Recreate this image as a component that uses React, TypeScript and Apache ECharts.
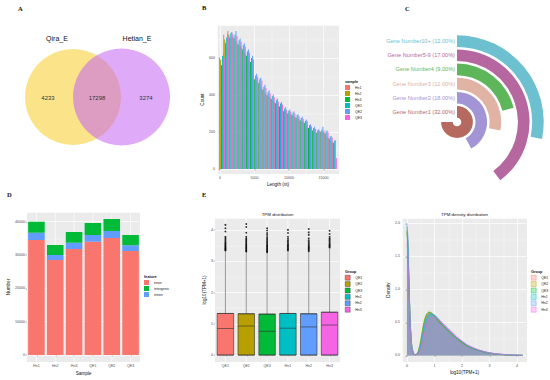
import React, { useEffect, useRef } from 'react';
import * as echarts from 'echarts';

const FONT = 'Liberation Sans, Arial, sans-serif';
const SERIF = 'Liberation Serif, DejaVu Serif, serif';
const GG = ['#F8766D', '#B79F00', '#00BA38', '#00BFC4', '#619CFF', '#F564E3'];

// ---- A: Venn ----
const vennSets = ['Qira_E', 'Hetian_E'];
const vennCounts = [4233, 17298, 3274];

// ---- B: length histogram ----
const lenSamples = ['Hn1', 'Hn2', 'Hn3', 'QE1', 'QE2', 'QE3'];
const lenBins = [300, 900, 1500, 2100, 2700, 3300, 3900, 4500, 5100, 5700, 6300, 6900, 7500, 8100, 8700, 9300, 9900, 10500, 11100, 11700, 12300, 12900, 13500, 14100, 14700, 15300, 15900, 16500];
const lenHn1 = [600, 725, 745, 720, 690, 665, 630, 595, 500, 480, 440, 410, 390, 368, 350, 322, 312, 300, 286, 272, 258, 232, 218, 206, 208, 200, 172, 150];
const lenHn2 = [590, 700, 725, 712, 680, 655, 620, 585, 490, 470, 432, 402, 382, 360, 342, 316, 305, 295, 280, 266, 252, 226, 212, 200, 205, 196, 168, 145];
const lenHn3 = [560, 680, 710, 705, 672, 645, 612, 578, 485, 462, 428, 398, 378, 355, 338, 312, 300, 290, 276, 262, 248, 222, 208, 196, 200, 190, 164, 140];
const lenQE1 = [610, 710, 735, 725, 695, 670, 635, 600, 505, 485, 445, 415, 395, 372, 354, 326, 315, 304, 290, 275, 260, 236, 221, 210, 212, 203, 175, 152];
const lenQE2 = [625, 730, 740, 745, 705, 680, 645, 612, 515, 495, 455, 425, 402, 380, 362, 335, 322, 310, 296, 282, 268, 242, 228, 215, 228, 208, 178, 155];
const lenQE3 = [595, 715, 730, 718, 688, 660, 628, 590, 498, 478, 438, 408, 388, 365, 348, 320, 310, 298, 284, 270, 256, 230, 216, 204, 206, 198, 170, 60];
const lenSeries = [lenHn1, lenHn2, lenHn3, lenQE1, lenQE2, lenQE3];

// ---- C: gene number radial bars ----
const geneCats = ['Gene Number1', 'Gene Number2', 'Gene Number3', 'Gene Number4', 'Gene Number5-9', 'Gene Number10+'];
const genePct = [32, 18, 12, 9, 17, 12];
const geneColors = ['#B5695F', '#A394D6', '#E0B3A4', '#5DB75A', '#B6679F', '#6CC0D0'];

// ---- D: features ----
const featSamples = ['Hn1', 'Hn2', 'Hn3', 'QE1', 'QE2', 'QE3'];
const featExon = [34500, 28500, 31800, 34000, 35100, 31200];
const featIntron = [2200, 1500, 1900, 2000, 2100, 1700];
const featIntergenic = [3300, 3000, 3200, 3600, 3600, 3100];

// ---- E: TPM boxplots ----
const tpmGroups = ['QE1', 'QE2', 'QE3', 'Hn1', 'Hn2', 'Hn3'];
const tpmQ1 = [0, 0, 0, 0, 0, 0];
const tpmMedian = [0.85, 0.93, 0.76, 0.86, 0.9, 0.96];
const tpmQ3 = [1.33, 1.32, 1.31, 1.33, 1.32, 1.37];
const tpmWhisker = [3.32, 3.29, 3.27, 3.32, 3.3, 3.42];
const outQE1 = [3.34, 3.36, 3.38, 3.4, 3.42, 3.45, 3.47, 3.5, 3.53, 3.56, 3.59, 3.62, 3.66, 3.7, 3.74, 3.78, 3.95, 4.05, 4.16];
const outQE2 = [3.31, 3.33, 3.35, 3.38, 3.41, 3.44, 3.47, 3.5, 3.53, 3.57, 3.61, 3.65, 3.69, 3.73, 3.78, 3.91, 4.09, 4.19];
const outQE3 = [3.29, 3.31, 3.34, 3.37, 3.4, 3.43, 3.46, 3.49, 3.52, 3.56, 3.6, 3.64, 3.68, 3.72, 3.77, 3.84, 3.9, 3.98, 4.05];
const outHn1 = [3.34, 3.37, 3.4, 3.43, 3.46, 3.49, 3.52, 3.55, 3.59, 3.63, 3.67, 3.72, 3.78, 3.9, 4.0];
const outHn2 = [3.32, 3.35, 3.38, 3.41, 3.44, 3.47, 3.5, 3.54, 3.58, 3.62, 3.67, 3.73, 3.84, 3.92, 4.03];
const outHn3 = [3.44, 3.46, 3.49, 3.52, 3.55, 3.58, 3.62, 3.66, 3.7, 3.73, 3.78, 3.87, 3.97];
const tpmOutliers = [outQE1, outQE2, outQE3, outHn1, outHn2, outHn3];

// ---- F: TPM density ----
const densX = [0, 0.03, 0.07, 0.12, 0.18, 0.25, 0.32, 0.4, 0.48, 0.56, 0.64, 0.72, 0.8, 0.88, 0.96, 1.04, 1.12, 1.2, 1.35, 1.5, 1.65, 1.8, 2.0, 2.2, 2.4, 2.6, 2.8, 3.0, 3.3, 3.6, 3.9, 4.2];
const densQE1 = [1.9, 1.72, 1.15, 0.48, 0.12, 0.02, 0.01, 0.04, 0.14, 0.32, 0.5, 0.6, 0.64, 0.64, 0.62, 0.59, 0.55, 0.51, 0.44, 0.38, 0.32, 0.27, 0.2, 0.15, 0.11, 0.08, 0.055, 0.037, 0.02, 0.01, 0.004, 0.001];
const densQE2 = [1.85, 1.68, 1.12, 0.46, 0.11, 0.02, 0.01, 0.05, 0.18, 0.38, 0.55, 0.63, 0.66, 0.65, 0.62, 0.58, 0.54, 0.5, 0.43, 0.37, 0.31, 0.26, 0.19, 0.14, 0.1, 0.075, 0.05, 0.034, 0.018, 0.009, 0.004, 0.001];
const densQE3 = [1.88, 1.7, 1.14, 0.47, 0.12, 0.02, 0.01, 0.05, 0.17, 0.36, 0.53, 0.62, 0.65, 0.64, 0.61, 0.57, 0.53, 0.49, 0.43, 0.37, 0.31, 0.26, 0.19, 0.14, 0.1, 0.074, 0.05, 0.034, 0.018, 0.009, 0.004, 0.001];
const densHn1 = [1.95, 1.78, 1.18, 0.49, 0.12, 0.02, 0.01, 0.03, 0.1, 0.25, 0.43, 0.55, 0.61, 0.63, 0.62, 0.6, 0.56, 0.52, 0.45, 0.39, 0.33, 0.27, 0.21, 0.15, 0.11, 0.08, 0.056, 0.038, 0.021, 0.011, 0.005, 0.001];
const densHn2 = [2.0, 1.82, 1.2, 0.5, 0.12, 0.02, 0.01, 0.03, 0.11, 0.27, 0.45, 0.56, 0.61, 0.63, 0.62, 0.59, 0.56, 0.52, 0.45, 0.39, 0.33, 0.27, 0.21, 0.15, 0.11, 0.08, 0.056, 0.038, 0.021, 0.011, 0.005, 0.001];
const densHn3 = [1.7, 1.55, 1.04, 0.43, 0.1, 0.02, 0.01, 0.02, 0.07, 0.18, 0.34, 0.47, 0.54, 0.57, 0.58, 0.58, 0.56, 0.53, 0.47, 0.41, 0.35, 0.29, 0.22, 0.16, 0.12, 0.085, 0.06, 0.04, 0.022, 0.012, 0.005, 0.001];
const densSeries = [densQE1, densQE2, densQE3, densHn1, densHn2, densHn3];

// ---- shared styles ----
const PANEL = '#EBEBEB';
const tickLbl = { fontSize: 3.6, color: '#4D4D4D', fontFamily: FONT, margin: 2 };
const valLbl = { ...tickLbl, showMinLabel: false, showMaxLabel: false };
const aTick = { show: true, length: 1.5, lineStyle: { color: '#333', width: 0.4 } };
const sLine = { show: true, lineStyle: { color: '#fff', width: 0.7 } };
const mLine = { show: true, lineStyle: { color: '#fff', width: 0.3 } };
const mTick = { show: false, splitNumber: 2 };
const nameStyle = { fontSize: 4.6, color: '#111', fontFamily: FONT };

function valueAxis(grid: number, min: number, max: number, split: number) {
  return {
    type: 'value', gridIndex: grid, min, max, splitNumber: split,
    axisLine: { show: false }, axisTick: aTick, axisLabel: valLbl,
    splitLine: sLine, minorTick: mTick, minorSplitLine: mLine,
    nameLocation: 'middle', nameTextStyle: nameStyle,
  };
}

function vGridSeries(x: number, y: number, n: number) {
  return {
    type: 'custom', xAxisIndex: x, yAxisIndex: y, z: 1, silent: true,
    data: Array.from({ length: n }, (_, i) => [i, 0]),
    renderItem: (params: any, api: any) => {
      const px = api.coord([api.value(0), 0])[0];
      const cs = params.coordSys;
      return { type: 'line', shape: { x1: px, y1: cs.y, x2: px, y2: cs.y + cs.height }, style: { stroke: '#fff', lineWidth: 0.7 } };
    },
  };
}

function txt(text: string, x: number, y: number, size: number, opts: any = {}) {
  return {
    type: 'text', x, y, silent: true,
    style: { text, fontSize: size, fontFamily: opts.font || FONT, fontWeight: opts.weight || 'normal', fill: opts.fill || '#111', textAlign: opts.align || 'left', textVerticalAlign: 'middle' },
  };
}

function legendCfg(left: number, top: number, items: any[]) {
  return {
    orient: 'vertical', left, top, itemWidth: 5, itemHeight: 5, itemGap: 1, padding: 0,
    selectedMode: false, textStyle: { fontSize: 3.5, color: '#222', fontFamily: FONT },
    data: items,
  };
}

function buildOption() {
  const graphic: any[] = [
    txt('A', 18, 8, 6.5, { font: SERIF, weight: 'bold' }),
    txt('B', 202, 7, 6.5, { font: SERIF, weight: 'bold' }),
    txt('C', 405, 8, 6.5, { font: SERIF, weight: 'bold' }),
    txt('D', 7, 194, 6.5, { font: SERIF, weight: 'bold' }),
    txt('E', 202, 194, 6.5, { font: SERIF, weight: 'bold' }),
    { type: 'circle', shape: { cx: 73, cy: 97, r: 48 }, style: { fill: '#FBE38A' }, silent: true },
    { type: 'circle', shape: { cx: 121.5, cy: 97, r: 48.5 }, style: { fill: 'rgba(196,100,240,0.55)' }, silent: true },
    txt(vennSets[0], 57, 38, 7, { align: 'center' }),
    txt(vennSets[1], 137, 38, 7, { align: 'center' }),
    txt(String(vennCounts[0]), 48, 98, 6, { align: 'center', fill: '#333' }),
    txt(String(vennCounts[1]), 97, 98, 6, { align: 'center', fill: '#333' }),
    txt(String(vennCounts[2]), 146, 98, 6, { align: 'center', fill: '#333' }),
    txt('TPM distribution', 277.5, 214, 4.4, { align: 'center' }),
    txt('TPM density distribution', 464.5, 214, 4.4, { align: 'center' }),
    txt('sample', 345, 82, 3.8, { weight: 'bold' }),
    txt('feature', 144, 277, 3.8, { weight: 'bold' }),
    txt('Group', 345, 272, 3.8, { weight: 'bold' }),
    txt('Group', 531, 272, 3.8, { weight: 'bold' }),
  ];

  const series: any[] = [];

  // B bars
  lenSeries.forEach((arr, k) => {
    series.push({
      type: 'bar', name: lenSamples[k], xAxisIndex: 0, yAxisIndex: 0,
      data: lenBins.map((b, i) => [b, arr[i]]), itemStyle: { color: GG[k] },
      barGap: '0%', barCategoryGap: '4%',
    });
  });

  // D
  series.push(vGridSeries(1, 1, featSamples.length));
  series.push({ type: 'bar', name: 'exon', stack: 'f', xAxisIndex: 1, yAxisIndex: 1, data: featExon, itemStyle: { color: '#F8766D' }, barCategoryGap: '12%' });
  series.push({ type: 'bar', name: 'intron', stack: 'f', xAxisIndex: 1, yAxisIndex: 1, data: featIntron, itemStyle: { color: '#619CFF' }, barCategoryGap: '12%' });
  series.push({ type: 'bar', name: 'intergenic', stack: 'f', xAxisIndex: 1, yAxisIndex: 1, data: featIntergenic, itemStyle: { color: '#00BA38' }, barCategoryGap: '12%' });

  // E
  series.push(vGridSeries(2, 2, tpmGroups.length));
  series.push({
    type: 'custom', xAxisIndex: 2, yAxisIndex: 2, z: 2, silent: true,
    data: tpmGroups.map((_, i) => [i, tpmQ3[i], tpmWhisker[i]]),
    renderItem: (params: any, api: any) => {
      const p1 = api.coord([api.value(0), api.value(1)]);
      const p2 = api.coord([api.value(0), api.value(2)]);
      return { type: 'line', shape: { x1: p1[0], y1: p1[1], x2: p2[0], y2: p2[1] }, style: { stroke: '#555', lineWidth: 0.6 } };
    },
  });
  series.push({
    type: 'boxplot', xAxisIndex: 2, yAxisIndex: 2, boxWidth: [16.5, 16.5], z: 3,
    data: tpmGroups.map((_, i) => ({
      value: [tpmQ1[i], tpmQ1[i], tpmMedian[i], tpmQ3[i], tpmQ3[i]],
      itemStyle: { color: GG[i], borderColor: '#333', borderWidth: 0.6 },
    })),
  });
  series.push({
    type: 'scatter', xAxisIndex: 2, yAxisIndex: 2, symbolSize: 1.8, z: 4,
    itemStyle: { color: '#000' },
    data: tpmOutliers.flatMap((arr, i) => arr.map((v) => [i, v])),
  });

  // F
  densSeries.forEach((arr, k) => {
    series.push({
      type: 'line', name: tpmGroups[k], xAxisIndex: 3, yAxisIndex: 3, showSymbol: false, smooth: 0.2,
      data: densX.map((x, i) => [x, arr[i]]),
      lineStyle: { color: GG[k], width: 0.6 }, itemStyle: { color: GG[k] },
      areaStyle: { color: GG[k], opacity: 0.3 },
    });
  });

  // C polar
  series.push({
    type: 'bar', coordinateSystem: 'polar', barCategoryGap: '18%',
    data: genePct.map((v, i) => ({ value: v, itemStyle: { color: geneColors[i] } })),
  });

  return {
    animation: false,
    backgroundColor: '#fff',
    textStyle: { fontFamily: FONT },
    graphic,
    grid: [
      { left: 217, top: 25, width: 122, height: 149, show: true, backgroundColor: PANEL, borderWidth: 0 },
      { left: 27, top: 212, width: 113, height: 150, show: true, backgroundColor: PANEL, borderWidth: 0 },
      { left: 215, top: 218, width: 125, height: 144, show: true, backgroundColor: PANEL, borderWidth: 0 },
      { left: 402, top: 218, width: 125, height: 144, show: true, backgroundColor: PANEL, borderWidth: 0 },
    ],
    xAxis: [
      { ...valueAxis(0, -435, 17250, 4), name: 'Length (nt)', nameGap: 8, axisLabel: { ...valLbl, formatter: (v: number) => String(v) } },
      {
        type: 'category', gridIndex: 1, data: featSamples, axisLine: { show: false },
        axisTick: { ...aTick, alignWithLabel: true }, axisLabel: tickLbl, splitLine: { show: false },
        name: 'Sample', nameLocation: 'middle', nameGap: 9, nameTextStyle: nameStyle,
      },
      {
        type: 'category', gridIndex: 2, data: tpmGroups, axisLine: { show: false },
        axisTick: { ...aTick, alignWithLabel: true }, axisLabel: tickLbl, splitLine: { show: false },
      },
      { ...valueAxis(3, -0.18, 4.36, 5), name: 'log10(TPM+1)', nameGap: 8 },
    ],
    yAxis: [
      { ...valueAxis(0, -27, 778, 5), name: 'Count', nameGap: 10 },
      { ...valueAxis(1, -2100, 42900, 5), name: 'Number', nameGap: 14, axisLabel: { ...valLbl, formatter: (v: number) => String(v) } },
      { ...valueAxis(2, -0.22, 4.38, 5), name: 'log10(TPM+1)', nameGap: 8 },
      { ...valueAxis(3, -0.1, 2.08, 5), name: 'Density', nameGap: 9, axisLabel: { ...valLbl, formatter: (v: number) => v.toFixed(1) } },
    ],
    polar: { center: [457, 122], radius: [3, 88] },
    angleAxis: { type: 'value', min: 0, max: 42.67, startAngle: 90, clockwise: true, show: false },
    radiusAxis: {
      type: 'category', data: geneCats, z: 10,
      axisLine: { show: false }, axisTick: { show: false }, splitLine: { show: false },
      axisLabel: {
        interval: 0, hideOverlap: false,
        fontSize: 5.6, fontFamily: FONT, margin: 2,
        color: (_v: any, i: number) => geneColors[i],
        formatter: (v: string, i: number) => `${v} (${genePct[i].toFixed(2)}%)`,
      },
    },
    legend: [
      legendCfg(345, 85, lenSamples.map((s, i) => ({ name: s, icon: 'rect', itemStyle: { color: GG[i] } }))),
      legendCfg(144, 280, [
        { name: 'exon', icon: 'rect', itemStyle: { color: '#F8766D' } },
        { name: 'intergenic', icon: 'rect', itemStyle: { color: '#00BA38' } },
        { name: 'intron', icon: 'rect', itemStyle: { color: '#619CFF' } },
      ]),
      legendCfg(345, 275, tpmGroups.map((s, i) => ({ name: s, icon: 'rect', itemStyle: { color: GG[i], borderColor: '#333', borderWidth: 0.4 } }))),
      legendCfg(531, 275, tpmGroups.map((s, i) => ({ name: s, icon: 'rect', itemStyle: { color: echarts.color.modifyAlpha(GG[i], 0.3), borderColor: GG[i], borderWidth: 0.4 } }))),
    ],
    series,
  };
}

export default function App() {
  const ref = useRef<HTMLDivElement>(null);
  useEffect(() => {
    document.body.style.margin = '0';
    const chart = echarts.init(ref.current as HTMLDivElement, null, { renderer: 'svg' });
    chart.setOption(buildOption() as any);
    return () => chart.dispose();
  }, []);
  return <div ref={ref} style={{ position: 'absolute', left: 0, top: 0, width: 550, height: 380, background: '#fff' }} />;
}
